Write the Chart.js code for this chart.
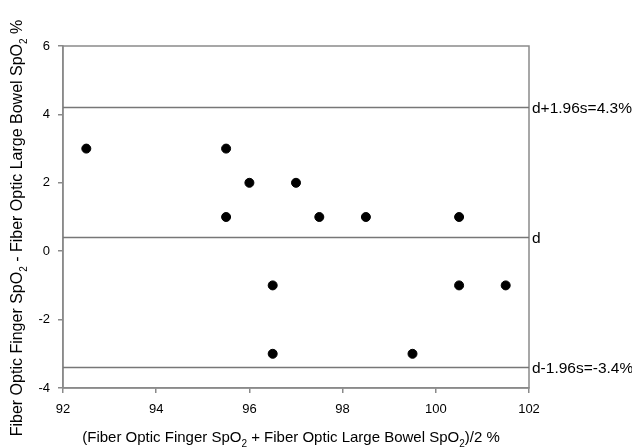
<!DOCTYPE html>
<html>
<head>
<meta charset="utf-8">
<script src="https://cdn.jsdelivr.net/npm/chart.js@4.4.0/dist/chart.umd.min.js"></script>
<style>
  html, body { margin: 0; padding: 0; background: #fff; }
  #wrap { width: 632px; height: 448px; }
</style>
</head>
<body>
<div id="wrap"><canvas id="chart" width="632" height="448"></canvas></div>
<script>
// data
const meanX = [92.5, 95.5, 95.5, 96, 97, 97.5, 98.5, 100.5, 96.5, 96.5, 99.5, 100.5, 101.5];
const diffY = [3, 3, 1, 2, 2, 1, 1, 1, -1, -3, -3, -1, -1];

// reference lines (mean and limits of agreement)
const refValues = [4.2, 0.4, -3.4];
const refLabels = ["d+1.96s=4.3%", "d", "d-1.96s=-3.4%"];

const xRange = [92, 102];
const yRange = [-4, 6];
const xTicks = [92, 94, 96, 98, 100, 102];
const yTicks = [-4, -2, 0, 2, 4, 6];

// axis titles, split so the "2" can be drawn as subscript
const xTitle = [["(Fiber Optic Finger SpO", 0], ["2", 1], [" + Fiber Optic Large Bowel SpO", 0], ["2", 1], [")/2 %", 0]];
const yTitle = [["Fiber Optic Finger SpO", 0], ["2", 1], [" - Fiber Optic Large Bowel SpO", 0], ["2", 1], [" %", 0]];

const FONT = "Arial, 'Liberation Sans', sans-serif";
const AXIS_GREY = "#8a8a8a";

const points = meanX.map((x, i) => ({ x: x, y: diffY[i] }));

const refSets = refValues.map(v => ({
    type: 'line',
    data: [{ x: xRange[0], y: v }, { x: xRange[1], y: v }],
    borderColor: '#777',
    borderWidth: 1.5,
    pointRadius: 0,
    fill: false,
    order: 2
}));

// measures / draws a run of text with subscripts
function richWidth(ctx, parts, size) {
    let w = 0;
    parts.forEach(p => {
        ctx.font = (p[1] ? Math.round(size * 0.65) : size) + "px " + FONT;
        w += ctx.measureText(p[0]).width;
    });
    return w;
}
function drawRich(ctx, parts, x, y, size) {
    let cx = x;
    parts.forEach(p => {
        const s = p[1] ? Math.round(size * 0.65) : size;
        ctx.font = s + "px " + FONT;
        ctx.fillText(p[0], cx, p[1] ? y + size * 0.3 : y);
        cx += ctx.measureText(p[0]).width;
    });
}

const decor = {
    id: 'decor',
    beforeDatasetsDraw(chart) {
        const { ctx, chartArea } = chart;
        ctx.save();
        ctx.strokeStyle = AXIS_GREY;
        ctx.lineWidth = 1.5;
        ctx.strokeRect(chartArea.left, chartArea.top, chartArea.right - chartArea.left, chartArea.bottom - chartArea.top);
        ctx.restore();
    },
    afterDraw(chart) {
        const { ctx, chartArea, scales } = chart;
        ctx.save();
        ctx.fillStyle = '#000';
        // labels for reference lines
        ctx.font = "15.5px " + FONT;
        ctx.textAlign = 'left';
        ctx.textBaseline = 'middle';
        refValues.forEach((v, i) => {
            ctx.fillText(refLabels[i], chartArea.right + 3, scales.y.getPixelForValue(v) + 1);
        });

        // x title
        ctx.textBaseline = 'alphabetic';
        let w = richWidth(ctx, xTitle, 15);
        drawRich(ctx, xTitle, 291 - w / 2, 442, 15);

        // y title, rotated
        w = richWidth(ctx, yTitle, 16);
        ctx.translate(22, 228);
        ctx.rotate(-Math.PI / 2);
        drawRich(ctx, yTitle, -w / 2, 0, 16);
        ctx.restore();
    }
};

new Chart(document.getElementById('chart'), {
    type: 'scatter',
    data: {
        datasets: [{
            data: points,
            backgroundColor: '#000',
            borderColor: '#000',
            pointRadius: 4.5,
            pointHoverRadius: 4.5,
            order: 1
        }].concat(refSets)
    },
    options: {
        responsive: false,
        animation: false,
        events: [],
        layout: { padding: { top: 46, right: 103, left: 0, bottom: 0 } },
        plugins: { legend: { display: false }, tooltip: { enabled: false } },
        scales: {
            x: {
                type: 'linear',
                min: xRange[0],
                max: xRange[1],
                afterBuildTicks: axis => { axis.ticks = xTicks.map(v => ({ value: v })); },
                afterFit: axis => { axis.height = 60; },
                border: { display: true, color: AXIS_GREY, width: 1.5 },
                grid: { drawOnChartArea: false, color: AXIS_GREY, tickLength: 5, lineWidth: 1.5 },
                ticks: { color: '#000', font: { family: FONT, size: 13 }, padding: 9, maxRotation: 0 }
            },
            y: {
                type: 'linear',
                min: yRange[0],
                max: yRange[1],
                afterBuildTicks: axis => { axis.ticks = yTicks.map(v => ({ value: v })); },
                afterFit: axis => { axis.width = 63; },
                border: { display: true, color: AXIS_GREY, width: 1.5 },
                grid: { drawOnChartArea: false, color: AXIS_GREY, tickLength: 5, lineWidth: 1.5 },
                ticks: { color: '#000', font: { family: FONT, size: 13 }, padding: 8 }
            }
        }
    },
    plugins: [decor]
});
</script>
</body>
</html>
